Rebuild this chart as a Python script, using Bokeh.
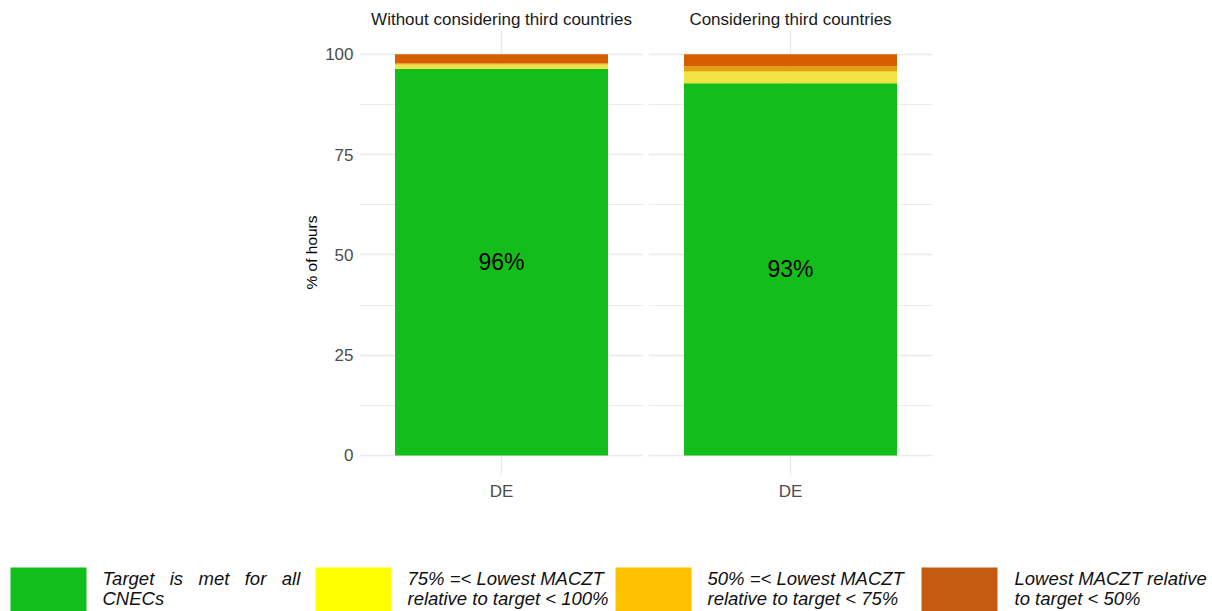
from bokeh.plotting import figure
from bokeh.models import FactorRange, Range1d, FixedTicker, ColumnDataSource, Grid
from bokeh.layouts import row, column
from bokeh.embed import file_html
from bokeh.resources import INLINE
from bokeh.core.properties import value

# ---------------- data ----------------
panels = ["Without considering third countries", "Considering third countries"]
zone = "DE"
target_met = [96.4, 92.8]        # Target is met for all CNECs
pct_75_100 = [1.1, 2.9]          # 75% =< lowest MACZT rel. to target < 100%
pct_50_75 = [0.3, 1.3]           # 50% =< lowest MACZT rel. to target < 75%
below_50 = [2.2, 3.0]            # lowest MACZT rel. to target < 50%
y_ticks = [0, 25, 50, 75, 100]
y_minor = [12.5, 37.5, 62.5, 87.5]
y_label = "% of hours"
legend_lines = [
    ["Target is met for all", "CNECs"],
    ["75% =< Lowest MACZT", "relative to target < 100%"],
    ["50% =< Lowest MACZT", "relative to target < 75%"],
    ["Lowest MACZT relative", "to target < 50%"],
]

# ---------------- styles ----------------
bar_colors = ["#14BE1A", "#F0E442", "#E69F00", "#D55E00"]
legend_colors = ["#12BE1A", "#FFFF00", "#FFC000", "#C55A11"]
FONT = "Liberation Sans"
GRID = "#EBEBEB"

stack_keys = ["g", "y", "a", "o"]


def make_panel(i, show_y):
    yt = FixedTicker(ticks=y_ticks, minor_ticks=y_minor)
    kw = dict(
        frame_width=284, frame_height=446,
        x_range=FactorRange(factors=[zone], range_padding=0.1, range_padding_units="absolute"),
        y_range=Range1d(-5, 106.2),
        output_backend="svg", toolbar_location=None,
        min_border_top=29, min_border_bottom=45,
        title=panels[i],
    )
    if show_y:
        p = figure(min_border_left=359, min_border_right=0, **kw)
    else:
        p = figure(min_border_left=5, min_border_right=280, y_axis_location=None, **kw)
    p.outline_line_color = None
    p.background_fill_color = "white"
    p.border_fill_color = "white"

    p.title.align = "center"
    p.title.text_font = FONT
    p.title.text_font_size = "17px"
    p.title.text_font_style = "normal"
    p.title.text_color = "#1A1A1A"
    p.title.standoff = 2

    src = ColumnDataSource(dict(x=[zone], g=[target_met[i]], y=[pct_75_100[i]],
                                a=[pct_50_75[i]], o=[below_50[i]],
                                ly=[target_met[i] / 2.0],
                                lbl=[f"{round(target_met[i])}%"]))
    p.vbar_stack(stack_keys, x="x", width=0.9, color=bar_colors, line_color=None, source=src)
    p.text(x="x", y="ly", text="lbl", source=src, text_align="center", text_baseline="middle",
           text_font=value(FONT), text_font_size="23px", text_color="black")

    # grids
    if len(p.ygrid) == 0:
        p.add_layout(Grid(dimension=1, ticker=yt))
    else:
        p.ygrid.ticker = yt
    p.ygrid.grid_line_color = GRID
    p.ygrid.grid_line_width = 1.3
    p.ygrid.minor_grid_line_color = GRID
    p.ygrid.minor_grid_line_width = 1
    p.xgrid.grid_line_color = GRID
    p.xgrid.grid_line_width = 1.3

    # x axis
    ax = p.xaxis[0]
    ax.axis_line_color = None
    ax.major_tick_line_color = None
    ax.minor_tick_line_color = None
    ax.major_tick_out = 0
    ax.major_label_text_font = FONT
    ax.major_label_text_font_size = "17px"
    ax.major_label_text_color = "#4D4D4D"
    ax.major_label_standoff = 6

    if show_y:
        ay = p.yaxis[0]
        ay.ticker = yt
        ay.axis_line_color = None
        ay.major_tick_line_color = None
        ay.minor_tick_line_color = None
        ay.major_tick_out = 0
        ay.major_label_text_font = FONT
        ay.major_label_text_font_size = "17px"
        ay.major_label_text_color = "#4D4D4D"
        ay.major_label_standoff = 2
        ay.axis_label = y_label
        ay.axis_label_text_font = FONT
        ay.axis_label_text_font_size = "15.5px"
        ay.axis_label_text_font_style = "normal"
        ay.axis_label_text_color = "black"
        ay.axis_label_standoff = 2
    return p


p1 = make_panel(0, True)
p2 = make_panel(1, False)

# ---------------- legend strip ----------------
pl = figure(width=1212, height=91, x_range=Range1d(0, 1212), y_range=Range1d(611, 520),
            min_border=0, min_border_left=0, min_border_right=0, min_border_top=0, min_border_bottom=0,
            output_backend="svg", toolbar_location=None,
            x_axis_location=None, y_axis_location=None)
pl.outline_line_color = None
pl.xgrid.visible = False
pl.ygrid.visible = False

sq_left = [10, 315, 615, 921]
txt_left = [102, 407, 707, 1014]
sq_w = 76
pl.quad(left=sq_left, right=[v + sq_w for v in sq_left], top=[567] * 4, bottom=[612] * 4,
        color=legend_colors, line_color=None)

nb = "\u00a0\u00a0\u00a0"
lines1 = [legend_lines[0][0].replace(" ", nb)] + [l[0] for l in legend_lines[1:]]
lines2 = [l[1] for l in legend_lines]
for ys, lines in ((578, lines1), (598, lines2)):
    pl.text(x=txt_left, y=[ys] * 4, text=lines, text_align="left", text_baseline="alphabetic",
            text_font=value(FONT), text_font_size="18.5px", text_font_style="italic",
            text_color="#111111")

layout = column(row(p1, p2), pl)
open("out.html", "w").write(file_html(layout, INLINE))
